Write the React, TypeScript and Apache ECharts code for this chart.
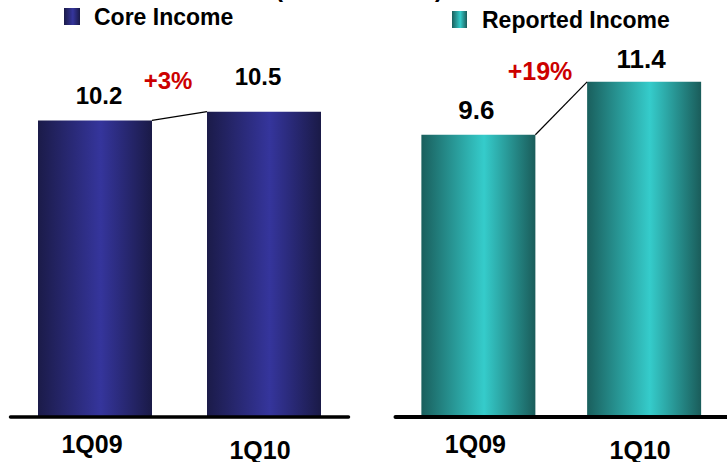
import React, { useEffect, useRef } from "react";
import * as echarts from "echarts";

const categories = ["1Q09", "1Q10"];
const coreIncome = [10.2, 10.5];
const reportedIncome = [9.6, 11.4];
const coreGrowth = "+3%";
const reportedGrowth = "+19%";
const seriesNames = ["Core Income", "Reported Income"];
const unitTitle = "(in US$ billion)";

const BAR_W = 114;
const FONT = "'Liberation Sans', Arial, sans-serif";

export default function App() {
  const ref = useRef<HTMLDivElement>(null);
  useEffect(() => {
    document.body.style.margin = "0";
    const chart = echarts.init(ref.current!, null, { renderer: "svg" });
    const navy = new echarts.graphic.LinearGradient(0, 0, 1, 0, [
      { offset: 0, color: "#1b1b49" },
      { offset: 0.55, color: "#35359c" },
      { offset: 1, color: "#1a1a47" },
    ]);
    const teal = new echarts.graphic.LinearGradient(0, 0, 1, 0, [
      { offset: 0, color: "#1a5f5d" },
      { offset: 0.55, color: "#35cccb" },
      { offset: 1, color: "#1a5c5a" },
    ]);
    const axisLabel = (size: number) => ({
      margin: 14,
      formatter: (v: string) => (v === categories[1] ? `{b|${v}}` : `{a|${v}}`),
      rich: {
        a: { fontSize: size, fontWeight: "bold", color: "#000", fontFamily: FONT, padding: [0, 6, 0, 0] },
        b: { fontSize: size, fontWeight: "bold", color: "#000", fontFamily: FONT, padding: [6, 8, 0, 0] },
      },
    });
    const connector = (idx: number, values: number[]) => ({
      type: "custom",
      xAxisIndex: idx,
      yAxisIndex: idx,
      silent: true,
      z: 5,
      data: [[0, values[0], values[1]]],
      renderItem: (_p: any, api: any) => {
        const a = api.coord([0, api.value(1)]);
        const b = api.coord([1, api.value(2)]);
        return {
          type: "line",
          shape: { x1: a[0] + BAR_W / 2, y1: a[1], x2: b[0] - BAR_W / 2, y2: b[1] },
          style: { stroke: "#000", lineWidth: 1.2 },
        };
      },
    });
    const valueLabel = (size: number, offsets: number[][], dists: number[]) => (v: number, i: number) => ({
      value: v,
      label: {
        show: true,
        position: "top",
        distance: dists[i],
        offset: offsets[i],
        fontSize: size,
        fontWeight: "bold",
        color: "#000",
        fontFamily: FONT,
      },
    });
    chart.setOption({
      animation: false,
      grid: [
        { left: 10.5, width: 338, top: 68.1, height: 350.4 },
        { left: 395.5, width: 338, top: 64.2, height: 355.8 },
      ],
      legend: [
        {
          data: [seriesNames[0]],
          left: 64,
          top: 5,
          padding: 0,
          itemWidth: 16,
          itemHeight: 17,
          icon: "rect",
          textStyle: { fontSize: 23, fontWeight: "bold", color: "#000", fontFamily: FONT, padding: [0, 0, 0, 9] },
        },
        {
          data: [seriesNames[1]],
          left: 452,
          top: 8,
          padding: 0,
          itemWidth: 15,
          itemHeight: 17,
          icon: "rect",
          textStyle: { fontSize: 23, fontWeight: "bold", color: "#000", fontFamily: FONT, padding: [0, 0, 0, 10] },
        },
      ],
      xAxis: [
        {
          type: "category",
          gridIndex: 0,
          data: categories,
          z: 3,
          axisLine: { lineStyle: { color: "#000", width: 3.5 } },
          axisTick: { show: false },
          axisLabel: axisLabel(25),
        },
        {
          type: "category",
          gridIndex: 1,
          data: categories,
          z: 3,
          axisLine: { lineStyle: { color: "#000", width: 4 } },
          axisTick: { show: false },
          axisLabel: axisLabel(25),
        },
      ],
      yAxis: [
        { type: "value", gridIndex: 0, min: 0, max: 12, show: false, splitLine: { show: false } },
        { type: "value", gridIndex: 1, min: 0, max: 12, show: false, splitLine: { show: false } },
      ],
      series: [
        {
          name: seriesNames[0],
          type: "bar",
          xAxisIndex: 0,
          yAxisIndex: 0,
          barWidth: BAR_W,
          itemStyle: { color: navy },
          data: coreIncome.map(valueLabel(24, [[4, 0], [-6, 0]], [13, 23])),
        },
        {
          name: seriesNames[1],
          type: "bar",
          xAxisIndex: 1,
          yAxisIndex: 1,
          barWidth: BAR_W,
          itemStyle: { color: teal },
          data: reportedIncome.map(valueLabel(26, [[-2, 0], [-3, 0]], [12, 10])),
        },
        connector(0, coreIncome),
        connector(1, reportedIncome),
      ],
      graphic: [
        {
          type: "text",
          x: 168,
          y: 80,
          style: {
            text: coreGrowth,
            fill: "#cc0000",
            font: `bold 24px ${FONT}`,
            textAlign: "center",
            textVerticalAlign: "middle",
          },
        },
        {
          type: "text",
          x: 540,
          y: 71,
          style: {
            text: reportedGrowth,
            fill: "#cc0000",
            font: `bold 25px ${FONT}`,
            textAlign: "center",
            textVerticalAlign: "middle",
          },
        },
        {
          type: "text",
          x: 359,
          y: 0,
          style: {
            text: unitTitle,
            fill: "#000",
            font: `bold 24px ${FONT}`,
            textAlign: "center",
            textVerticalAlign: "bottom",
          },
        },
      ],
    });
    return () => chart.dispose();
  }, []);
  return <div ref={ref} style={{ width: 727, height: 462 }} />;
}
